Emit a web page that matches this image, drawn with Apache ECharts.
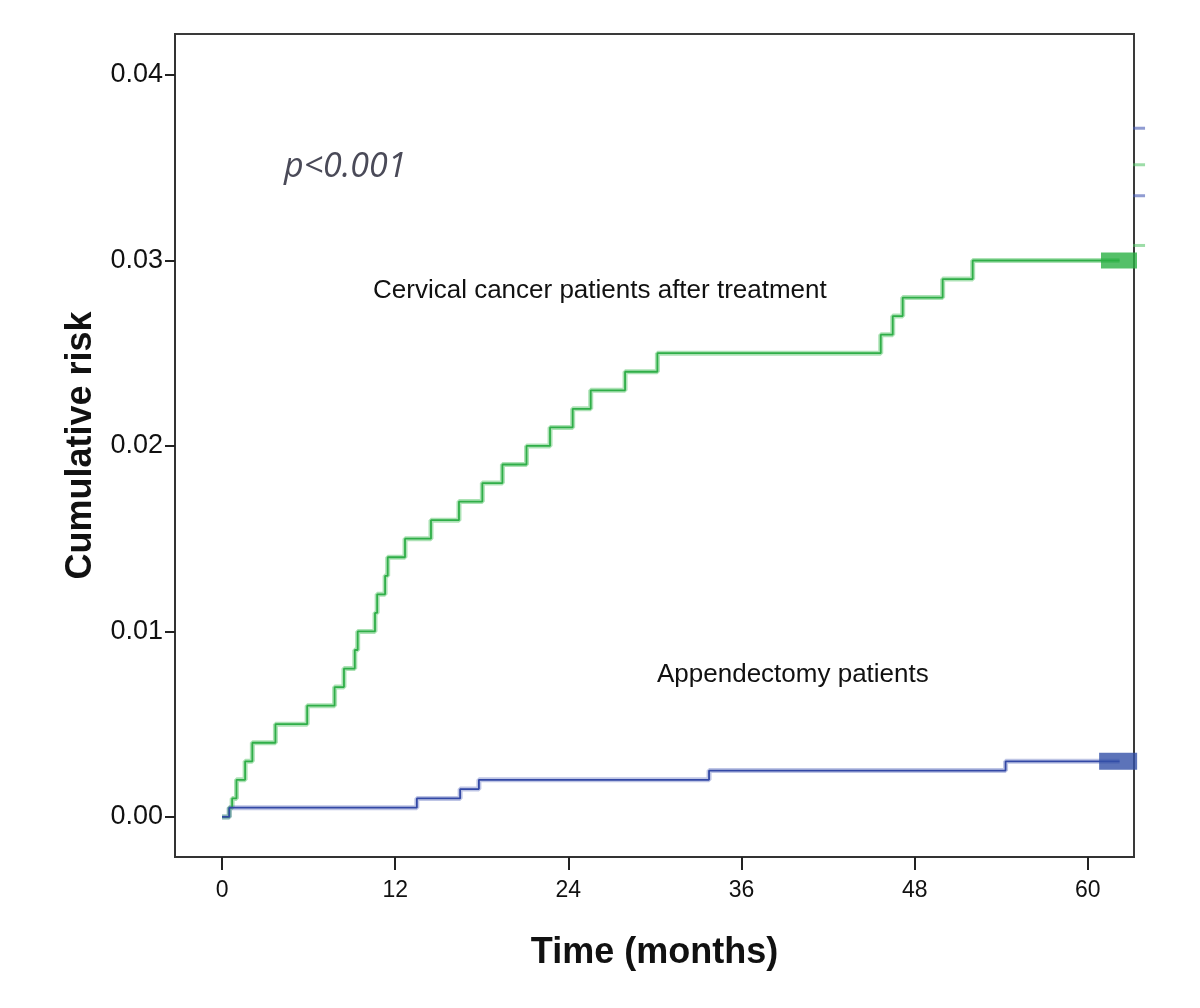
<!DOCTYPE html>
<html>
<head>
<meta charset="utf-8">
<script src="https://cdn.jsdelivr.net/npm/echarts@6/dist/echarts.min.js"></script>
<style>html,body{margin:0;padding:0;background:#fff;}#c{width:1200px;height:1008px;}</style>
</head>
<body>
<div id="c"></div>
<script>
// ---- data ----
const xTicks = [0, 12, 24, 36, 48, 60];
const yTicks = [0, 0.01, 0.02, 0.03, 0.04];

const cervicalTimes = [0, 0.5, 0.7, 1.0, 1.6, 2.1, 3.7, 5.9, 7.8, 8.45, 9.2, 9.4, 10.6, 10.75, 11.3, 11.48, 12.68, 14.48, 16.42, 18.04, 19.43, 21.1, 22.73, 24.3, 25.55, 27.93, 30.17, 45.65, 46.48, 47.17, 49.94, 52.02, 62.2];
const cervicalRisk  = [0, 0.0005, 0.001, 0.002, 0.003, 0.004, 0.005, 0.006, 0.007, 0.008, 0.009, 0.010, 0.011, 0.012, 0.013, 0.014, 0.015, 0.016, 0.017, 0.018, 0.019, 0.020, 0.021, 0.022, 0.023, 0.024, 0.025, 0.026, 0.027, 0.028, 0.029, 0.030, 0.030];

const appendTimes = [0, 0.5, 13.5, 16.5, 17.8, 33.75, 54.3, 62.2];
const appendRisk  = [0, 0.0005, 0.001, 0.0015, 0.002, 0.0025, 0.003, 0.003];

// censoring blocks at end of follow-up
const cervicalCensor = [[62.16, 0.030]];
const appendCensor = [[62.1, 0.003]];
// small marks just outside the right frame
const edgeBlueMarks = [[63.55, 0.03713], [63.55, 0.03349]];
const edgeGreenMarks = [[63.55, 0.03516], [63.55, 0.03081]];

const labelCervical = 'Cervical cancer patients after treatment';
const labelAppend = 'Appendectomy patients';
const pText = 'p<0.001';

// ---- chart ----
const zip = (a, b) => a.map((v, i) => [v, b[i]]);
const chart = echarts.init(document.getElementById('c'), null, {renderer: 'canvas'});

const GREEN = '#2fae48', GREEN_L = 'rgba(70,190,90,0.45)';
const BLUE = '#3348a5', BLUE_L = 'rgba(70,90,180,0.35)';

chart.setOption({
  backgroundColor: '#ffffff',
  animation: false,
  grid: {left: 175, top: 34, right: 66, bottom: 151, show: true, borderColor: '#3a3a3a', borderWidth: 2, backgroundColor: '#fff'},
  xAxis: {
    type: 'value', min: -3.26, max: 63.2,
    name: 'Time (months)', nameLocation: 'middle', nameGap: 78,
    nameTextStyle: {fontFamily: 'Liberation Sans Narrow, Liberation Sans, Arial', fontWeight: 'bold', fontSize: 36, color: '#111'},
    axisLine: {show: true, onZero: false, lineStyle: {color: '#333', width: 2}},
    axisTick: {show: true, length: 13, lineStyle: {color: '#222', width: 2}, customValues: xTicks},
    axisLabel: {color: '#111', fontSize: 23, margin: 22, fontFamily: 'Liberation Sans Narrow, Liberation Sans, Arial', customValues: xTicks, formatter: v => String(v)},
    splitLine: {show: false}
  },
  yAxis: {
    type: 'value', min: -0.00216, max: 0.04221,
    name: 'Cumulative risk', nameLocation: 'middle', nameGap: 62, nameRotate: 90,
    nameTextStyle: {fontFamily: 'Liberation Sans Narrow, Liberation Sans, Arial', fontWeight: 'bold', fontSize: 36, color: '#111'},
    axisLine: {show: true, onZero: false, lineStyle: {color: '#333', width: 2}},
    axisTick: {show: true, length: 10, lineStyle: {color: '#222', width: 2}, customValues: yTicks},
    axisLabel: {color: '#111', fontSize: 27, margin: 12, fontFamily: 'Liberation Sans, Arial', customValues: yTicks, formatter: v => v.toFixed(2)},
    splitLine: {show: false}
  },
  series: [
    {type: 'line', step: 'end', data: zip(cervicalTimes, cervicalRisk), symbol: 'none', lineStyle: {color: GREEN_L, width: 5}, z: 2},
    {type: 'line', step: 'end', data: zip(cervicalTimes, cervicalRisk), symbol: 'none', lineStyle: {color: GREEN, width: 1.8}, z: 3},
    {type: 'line', step: 'end', data: zip(appendTimes, appendRisk), symbol: 'none', lineStyle: {color: BLUE_L, width: 5}, z: 2},
    {type: 'line', step: 'end', data: zip(appendTimes, appendRisk), symbol: 'none', lineStyle: {color: BLUE, width: 1.8}, z: 3},
    {type: 'scatter', data: cervicalCensor, symbol: 'rect', symbolSize: [36, 16], itemStyle: {color: '#2bb043'}, clip: false, z: 4},
    {type: 'scatter', data: appendCensor, symbol: 'rect', symbolSize: [38, 17], itemStyle: {color: '#3350a8'}, clip: false, z: 4},
    {type: 'scatter', data: edgeBlueMarks, symbol: 'rect', symbolSize: [12, 3], itemStyle: {color: 'rgba(70,90,180,0.75)'}, clip: false, z: 1},
    {type: 'scatter', data: edgeGreenMarks, symbol: 'rect', symbolSize: [12, 3], itemStyle: {color: 'rgba(80,195,100,0.7)'}, clip: false, z: 1}
  ],
  graphic: [
    {type: 'text', left: 284, top: 150, style: {text: pText, fontFamily: 'Open Sans, Noto Sans', fontStyle: 'italic', fontSize: 34, fill: '#4a4a58'}},
    {type: 'text', left: 373, top: 278, style: {text: labelCervical, fontFamily: 'Liberation Sans, Arial', fontSize: 26, fill: '#111'}},
    {type: 'text', left: 657, top: 662, style: {text: labelAppend, fontFamily: 'Liberation Sans, Arial', fontSize: 26, fill: '#111'}}
  ]
});
</script>
</body>
</html>
